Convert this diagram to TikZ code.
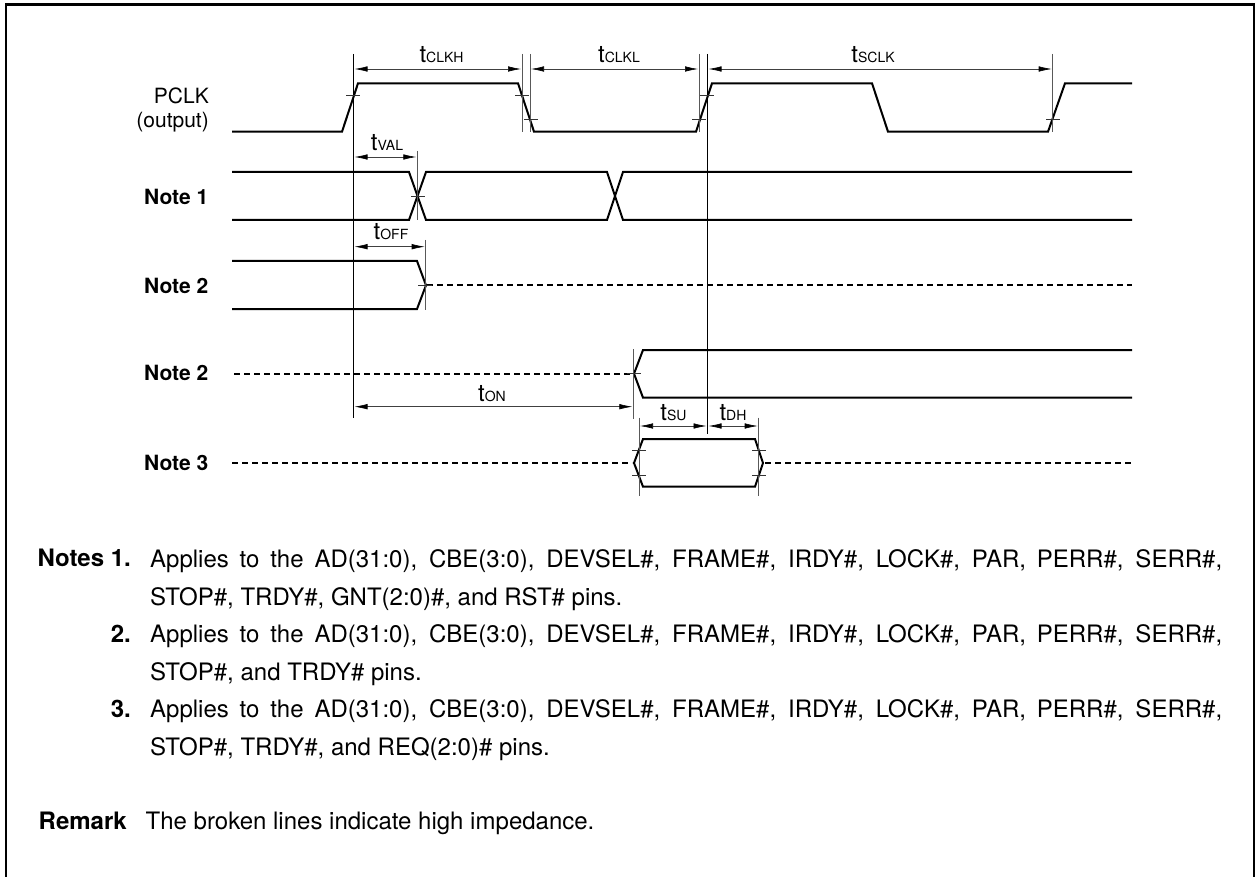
\documentclass[tikz,border=0pt]{standalone}
\usepackage{fontspec}
\setmainfont{TeX Gyre Heros}
\usetikzlibrary{arrows.meta}
\newcommand{\tname}[1]{t{\fontsize{14}{14}\selectfont #1}}
\begin{document}
\begin{tikzpicture}[x=1pt,y=-1pt]
    \tikzstyle{every node}=[inner sep=0pt,font=\fontsize{24}{37.5}\selectfont]
    \tikzstyle{wave}=[line width=2pt,line join=miter]
    \tikzstyle{hiz}=[line width=2pt,dash pattern=on 6pt off 4pt]
    \tikzstyle{guide}=[line width=0.7pt,black!65]
    \tikzstyle{marker}=[line width=0.6pt,black!80]
    \tikzstyle{span}=[line width=0.6pt,black!75,{Latex[length=13pt,width=5.5pt,black]}-{Latex[length=13pt,width=5.5pt,black]}]
    \tikzstyle{tlabel}=[anchor=base]
    \tikzstyle{pin}=[anchor=base east,font=\fontsize{21}{24}\selectfont]
    \tikzstyle{pinb}=[anchor=base east,font=\fontsize{21}{24}\selectfont\bfseries]
    \tikzstyle{para}=[anchor=north west,text width=1072pt,align=justify]
    \tikzstyle{num}=[anchor=base east,font=\fontsize{24}{37.5}\selectfont\bfseries]
    \useasboundingbox (0,0) rectangle (1255,877);
    \draw[line width=2.4pt] (6,877) -- (6,4.5) -- (1254,4.5) -- (1254,877);
    % signals
    \draw[wave] (232,131.7) -- (342,131.7) -- (358,83.3) -- (518,83.3) -- (534,131.7) -- (696,131.7) -- (712,83.3) -- (872,83.3) -- (888,131.7) -- (1048,131.7) -- (1065,83.3) -- (1132,83.3);
    \draw[wave] (232,172) -- (409,172) -- (426,220) -- (607,220) -- (623,172) -- (1132,172);
    \draw[wave] (232,220) -- (409,220) -- (426,172) -- (607,172) -- (623,220) -- (1132,220);
    \draw[wave] (232,261) -- (417,261) -- (426,285.3) -- (417,309) -- (232,309);
    \draw[hiz] (427,285.3) -- (1132,285.3);
    \draw[hiz] (234,373.7) -- (632,373.7);
    \draw[wave] (1132,350) -- (643,350) -- (634,373.7) -- (643,397.7) -- (1132,397.7);
    \draw[hiz] (232,463) -- (632,463);
    \draw[wave] (643,439) -- (755,439) -- (763,463) -- (755,486.7) -- (643,486.7) -- (634,463) -- cycle;
    \draw[hiz] (765,463) -- (1132,463);
    % guides
    \draw[guide,black] (353.5,54) -- (353.5,418);
    \draw[guide,black] (707.5,54) -- (707.5,434);
    \foreach \gx in {522,530,699,1052.7}
        \draw[guide] (\gx,54) -- (\gx,132);
    \draw[guide] (417.3,151) -- (417.3,220);
    \draw[guide] (425.7,240) -- (425.7,310);
    \draw[guide] (633.3,349) -- (633.3,419);
    \draw[guide] (639,417.7) -- (639,495.7);
    \draw[guide] (758.7,417.7) -- (758.7,495.7);
    % threshold marks
    \foreach \mx/\my in {353/95.7,522/95.7,707/95.7,531/119.5,699/119.5,1053/119.5,418/196,425/285.3,633.5/373.7,639/450.7,639/475,759/450.7,759/475}
        \draw[marker] (\mx-7,\my) -- (\mx+7,\my);
    % spans
    \draw[span] (354.5,69) -- (521,69);
    \draw[span] (531,69) -- (698,69);
    \draw[span] (708.5,69) -- (1051.7,69);
    \draw[span] (354.5,157) -- (416.3,157);
    \draw[span] (354.5,246.7) -- (424.7,246.7);
    \draw[span] (354.5,406.7) -- (632.3,406.7);
    \draw[span] (640,426) -- (706.5,426);
    \draw[span] (708.5,426) -- (757.7,426);
    \node[tlabel] (tclkh) at (441.5,63) {\tname{CLKH}};
    \node[tlabel] (tclkl) at (619,63) {\tname{CLKL}};
    \node[tlabel] (tsclk) at (873,63) {\tname{SCLK}};
    \node[tlabel] (tval) at (387,150.7) {\tname{VAL}};
    \node[tlabel] (toff) at (391,240) {\tname{OFF}};
    \node[tlabel] (ton) at (492,401) {\tname{ON}};
    \node[tlabel] (tsu) at (673.5,420) {\tname{SU}};
    \node[tlabel] (tdh) at (733,420) {\tname{DH}};
    % pin names
    \node[pin] (pclk) at (209,103.3) {PCLK};
    \node[pin] (pclko) at (209,127.5) {(output)};
    \node[pinb] (note1) at (208.5,205) {Note 1};
    \node[pinb] (note2a) at (208.5,293.5) {Note 2};
    \node[pinb] (note2b) at (208.5,380.7) {Note 2};
    \node[pinb] (note3) at (208.5,470.5) {Note 3};
    % notes
    \node[num] (num1) at (131,566.7) {Notes 1.};
    \node[para] (para1) at (150,549.5) {Applies to the AD(31:0), CBE(3:0), DEVSEL\#, FRAME\#, IRDY\#, LOCK\#, PAR, PERR\#, SERR\#,\linebreak STOP\#, TRDY\#, GNT(2:0)\#, and RST\# pins.};
    \node[num] (num2) at (131,642) {2.};
    \node[para] (para2) at (150,624.5) {Applies to the AD(31:0), CBE(3:0), DEVSEL\#, FRAME\#, IRDY\#, LOCK\#, PAR, PERR\#, SERR\#,\linebreak STOP\#, and TRDY\# pins.};
    \node[num] (num3) at (131,717) {3.};
    \node[para] (para3) at (150,699.5) {Applies to the AD(31:0), CBE(3:0), DEVSEL\#, FRAME\#, IRDY\#, LOCK\#, PAR, PERR\#, SERR\#,\linebreak STOP\#, TRDY\#, and REQ(2:0)\# pins.};
    \node[num,anchor=base west] (remark) at (38.5,829) {Remark};
    \node[anchor=base west] (remarktext) at (145.5,829) {The broken lines indicate high impedance.};
\end{tikzpicture}
\end{document}
